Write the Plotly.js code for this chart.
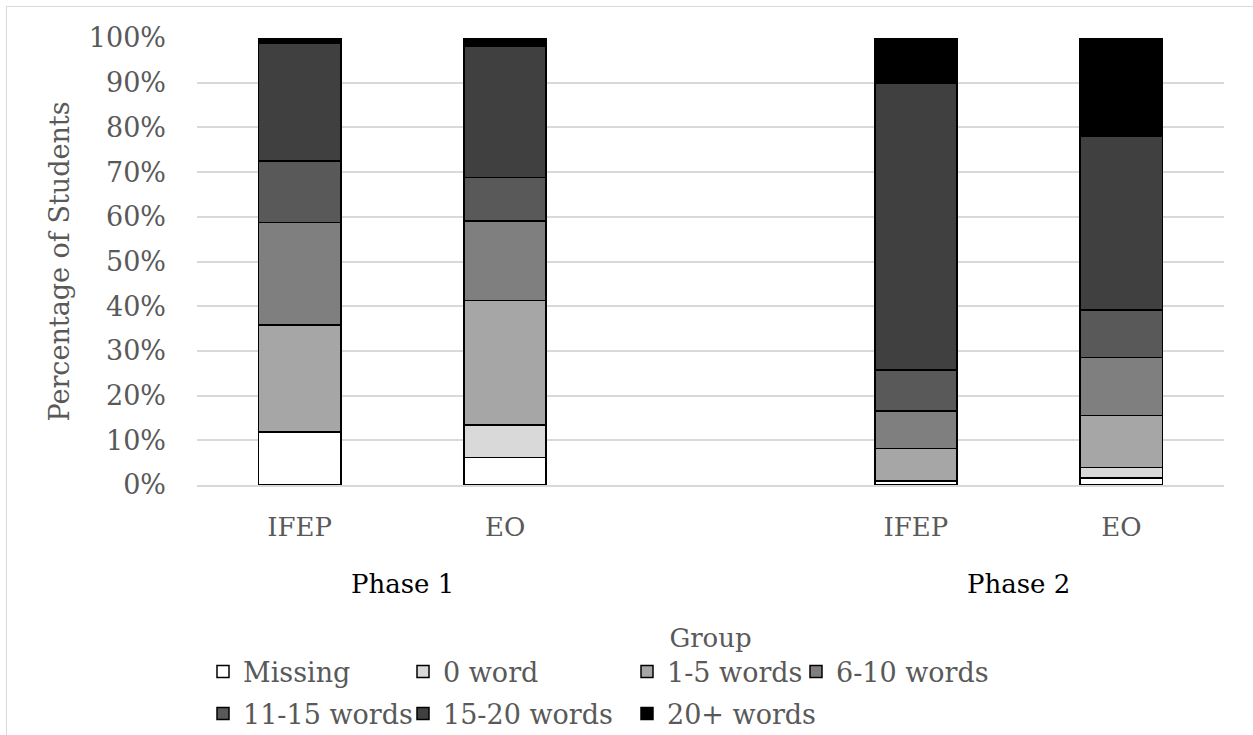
<!DOCTYPE html>
<html>
<head>
<meta charset="utf-8">
<script src="https://cdn.plot.ly/plotly-3.0.1.min.js"></script>
<style>
  html, body { margin:0; padding:0; background:#ffffff; }
  #frame { position:absolute; left:6px; top:6px; width:1250px; height:740px; border:1px solid #d9d9d9; box-sizing:border-box; }
  #chart { position:absolute; left:0; top:0; width:1253px; height:735px; }
</style>
</head>
<body>
<div id="frame"></div>
<div id="chart"></div>
<script>
// ---- data ----
const slotKeys   = ["P1-IFEP", "P1-EO", "gap", "P2-IFEP", "P2-EO"];
const slotLabels = ["IFEP", "EO", "", "IFEP", "EO"];
const barKeys    = ["P1-IFEP", "P1-EO", "P2-IFEP", "P2-EO"];
const phaseNames = ["Phase 1", "Phase 2"];

const seriesNames = ["Missing", "0 word", "1-5 words", "6-10 words", "11-15 words", "15-20 words", "20+ words"];
const missing  = [11.9, 6.2, 0.9, 1.6];
const zeroWord = [0.0, 7.2, 0.0, 2.3];
const w1to5    = [23.9, 27.9, 7.3, 11.7];
const w6to10   = [22.9, 17.8, 8.4, 12.9];
const w11to15  = [13.8, 9.7, 9.1, 10.6];
const w15to20  = [26.4, 29.4, 64.1, 39.0];
const w20plus  = [1.1, 1.8, 10.2, 21.9];
const seriesValues = [missing, zeroWord, w1to5, w6to10, w11to15, w15to20, w20plus];
const seriesColors = ["#ffffff", "#d9d9d9", "#a6a6a6", "#7f7f7f", "#595959", "#404040", "#000000"];

// ---- layout helpers ----
const W = 1253, H = 735;
const M = {l: 197, r: 29, t: 38, b: 250, autoexpand: false};
const PW = W - M.l - M.r, PH = H - M.t - M.b;
const px2x = px => (px - M.l) / PW;
const py2y = py => (H - M.b - py) / PH;

const FONT = "DejaVu Serif";
const GRAY = "#595959";

// legend placement (text start x, row center y)
const legendSpots = [
  [243, 672], [443, 672], [667, 672], [836, 672],
  [243, 714], [443, 714], [667, 714]
];

const traces = seriesNames.map((name, i) => ({
  type: "bar",
  name: name,
  x: barKeys,
  y: seriesValues[i],
  width: 0.4,
  marker: {color: seriesColors[i], line: {color: "#000000", width: 1.5}},
  legend: i === 0 ? "legend" : "legend" + (i + 1),
  hoverinfo: "name+y"
}));

const layout = {
  width: W, height: H,
  margin: M,
  paper_bgcolor: "rgba(0,0,0,0)",
  plot_bgcolor: "rgba(0,0,0,0)",
  barmode: "stack",
  bargap: 0.6,
  font: {family: FONT, color: GRAY, size: 27},
  xaxis: {
    type: "category",
    categoryorder: "array",
    categoryarray: slotKeys,
    tickmode: "array",
    tickvals: slotKeys,
    ticktext: slotLabels,
    range: [-0.5, 4.5],
    showgrid: false,
    showline: true,
    linecolor: "#d9d9d9",
    linewidth: 1.5,
    ticks: "",
    ticklabelstandoff: 18,
    tickfont: {family: FONT, size: 26, color: GRAY},
    title: {text: "Group", font: {family: FONT, size: 26, color: GRAY}, standoff: 88},
    automargin: false,
    fixedrange: true
  },
  yaxis: {
    range: [0, 100],
    tickmode: "linear",
    tick0: 0,
    dtick: 10,
    ticksuffix: "%",
    showgrid: true,
    gridcolor: "#d9d9d9",
    gridwidth: 1.5,
    zeroline: false,
    showline: false,
    ticks: "",
    ticklabelstandoff: 30,
    tickfont: {family: FONT, size: 27, color: GRAY},
    title: {text: "Percentage of Students", font: {family: FONT, size: 27, color: GRAY}, standoff: 11},
    automargin: false,
    fixedrange: true
  },
  annotations: phaseNames.map((p, k) => ({
    text: p,
    xref: "x", yref: "paper",
    x: k === 0 ? 0.5 : 3.5,
    y: py2y(584),
    xanchor: "center", yanchor: "middle",
    showarrow: false,
    font: {family: FONT, size: 26, color: "#000000"}
  })),
  showlegend: true
};

legendSpots.forEach((s, i) => {
  const key = i === 0 ? "legend" : "legend" + (i + 1);
  layout[key] = {
    x: px2x(s[0] - 40), y: py2y(s[1]),
    xanchor: "left", yanchor: "middle",
    orientation: "h",
    bgcolor: "rgba(0,0,0,0)",
    borderwidth: 0,
    font: {family: FONT, size: 27, color: GRAY},
    itemclick: false, itemdoubleclick: false
  };
});

Plotly.newPlot("chart", traces, layout, {displayModeBar: false});
</script>
</body>
</html>
